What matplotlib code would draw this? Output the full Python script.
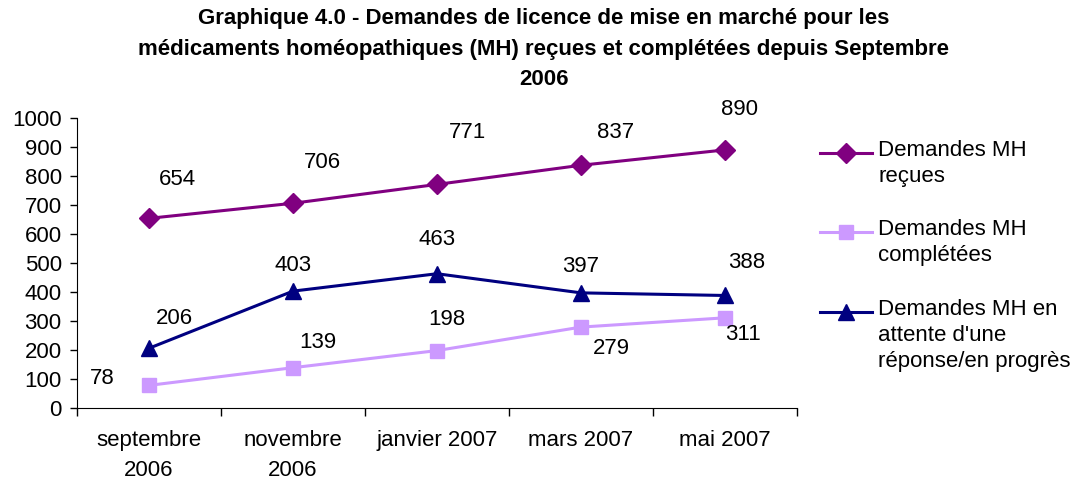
import numpy as np
import matplotlib.pyplot as plt
from matplotlib.lines import Line2D

plt.rcParams['font.family'] = ['Liberation Sans', 'DejaVu Sans']

# Donnees
mois = ['septembre\n2006', 'novembre\n2006', 'janvier 2007', 'mars 2007', 'mai 2007']
recues = [654, 706, 771, 837, 890]
completees = [78, 139, 198, 279, 311]
attente = [206, 403, 463, 397, 388]

noms = ['Demandes MH\nreçues', 'Demandes MH\ncomplétées',
        "Demandes MH en\nattente d'une\nréponse/en progrès"]
titre = ("Graphique 4.0 - Demandes de licence de mise en marché pour les\n"
         "médicaments homéopathiques (MH) reçues et complétées depuis Septembre\n"
         "2006")

# decalage des etiquettes (pixels)
off_rec = [(28, 39), (29, 41), (30, 52), (35, 33), (15, 40)]
off_comp = [(-47, 7), (25, 25), (10, 31), (30, -21), (18, -17)]
off_att = [(25, 30), (0, 26), (0, 34), (0, 26), (22, 33)]

fig = plt.figure(figsize=(10.81, 4.84), dpi=100)
ax = fig.add_axes([77/1081, 1 - 408/484, 720/1081, 290/484])

x = np.arange(len(mois))
series = [
    (recues, '#800080', 'D', 10, off_rec),
    (completees, '#CC99FF', 's', 10, off_comp),
    (attente, '#000080', '^', 11, off_att),
]
for vals, col, mk, ms, offs in series:
    ax.plot(x, vals, color=col, lw=2.2, marker=mk, markersize=ms, clip_on=False)
    for xi, v, o in zip(x, vals, offs):
        ax.annotate(str(v), (xi, v), xytext=o, textcoords='offset pixels',
                    ha='center', va='center', fontsize=16)

ax.set_xlim(-0.5, len(mois) - 0.5)
ax.set_ylim(0, 1000)
ax.set_yticks(np.arange(0, 1001, 100))
ax.set_xticks(x)
ax.set_xticklabels(mois, fontsize=16, linespacing=1.55)
ax.set_xticks(np.arange(-0.5, len(mois), 1), minor=True)
ax.tick_params(axis='x', which='major', length=0, pad=16)
ax.tick_params(axis='x', which='minor', length=6, width=1)
ax.tick_params(axis='y', labelsize=16, length=5, width=1, pad=6)
for s in ['top', 'right']:
    ax.spines[s].set_visible(False)

fig.text(0.503, 1 - 8/484, titre, ha='center', va='top', fontsize=16,
         fontweight='bold', linespacing=1.6)

# legende faite a la main
leg_y = [153, 232, 312]
for (vals, col, mk, ms, offs), nom, yy in zip(series, noms, leg_y):
    yf = 1 - yy / 484
    fig.add_artist(Line2D([820/1081, 846/1081, 872/1081], [yf, yf, yf],
                          transform=fig.transFigure, color=col, lw=2.2,
                          marker=mk, markersize=ms, markevery=[1]))
    fig.text(878/1081, 1 - (yy - 13)/484, nom, ha='left', va='top',
             fontsize=16, linespacing=1.3)

fig.savefig('out.png', dpi=100)
